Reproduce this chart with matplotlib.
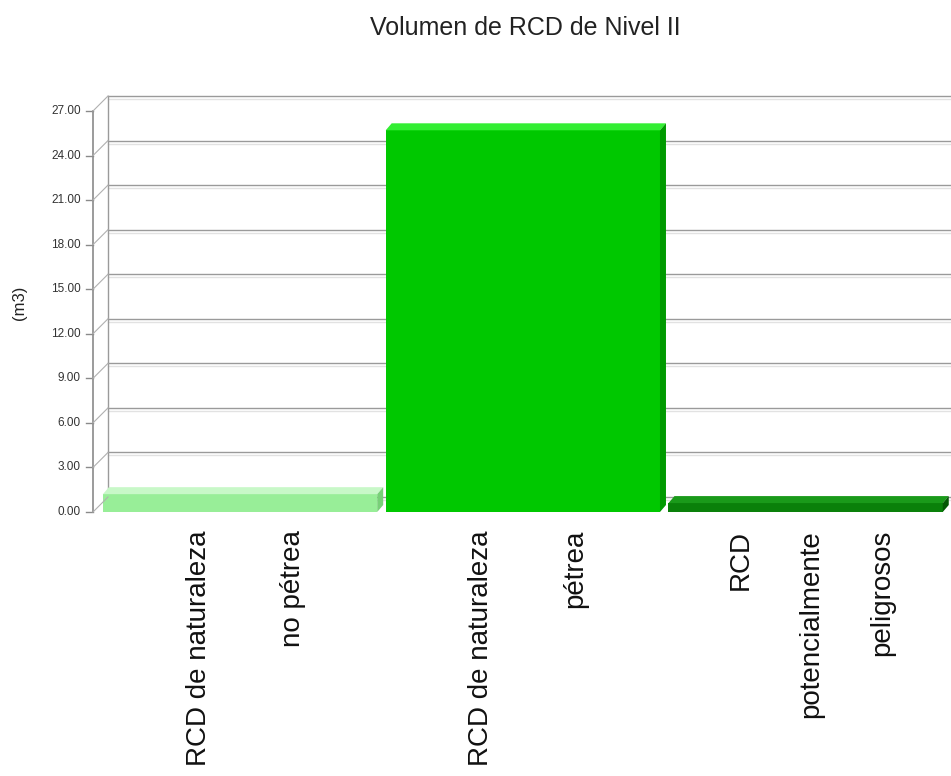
import matplotlib
matplotlib.use("Agg")
import matplotlib.pyplot as plt
import matplotlib.transforms as mtransforms
from matplotlib.patches import Polygon

plt.rcParams['font.family'] = ['Liberation Sans', 'DejaVu Sans']

# ---- data ----
title = "Volumen de RCD de Nivel II"
ylabel = "(m3)"
categories = [["RCD de naturaleza", "no pétrea"],
              ["RCD de naturaleza", "pétrea"],
              ["RCD", "potencialmente", "peligrosos"]]
values = [1.2, 25.7, 0.6]
yticks = [0, 3, 6, 9, 12, 15, 18, 21, 24, 27]
ytick_labels = ["%.2f" % t for t in yticks]

front_colors = ["#98ee98", "#00c800", "#0a800a"]
top_colors = ["#c8f8c8", "#33ee33", "#1a9a1a"]
side_colors = ["#78d078", "#009a00", "#055805"]

W, H = 951, 776
fig = plt.figure(figsize=(W / 100, H / 100), dpi=100)
ax = fig.add_axes([93 / W, (H - 512) / H, (947 - 93) / W, (512 - 111) / H])
ax.set_xlim(-0.52, 2.5)
ax.set_ylim(0, 27)
ax.set_axis_off()

# back-wall gridlines (offset for depth)
wall = mtransforms.offset_copy(ax.transData, fig=fig, x=15, y=15, units='dots')
wall_shadow = mtransforms.offset_copy(ax.transData, fig=fig, x=15, y=12, units='dots')
for t in yticks:
    ax.plot([-0.52, 2.6], [t, t], color="#9a9a9a", lw=1.0, transform=wall, clip_on=False, zorder=1)
    ax.plot([-0.52, 2.6], [t, t], color="#e2e2e2", lw=1.0, transform=wall_shadow, clip_on=False, zorder=1)
ax.plot([-0.52, -0.52], [0, 27], color="#9a9a9a", lw=1.0, transform=wall, clip_on=False, zorder=1)
# front axis line
ax.plot([-0.52, -0.52], [0, 27], color="#8a8a8a", lw=1.2, clip_on=False, zorder=2)

# ticks, diagonal connectors and tick labels
for t, lab in zip(yticks, ytick_labels):
    x0, y0 = ax.transData.transform((-0.52, t))
    fig.add_artist(plt.Line2D([x0 - 7, x0], [y0, y0], transform=None, color="#8a8a8a", lw=1.0))
    fig.add_artist(plt.Line2D([x0, x0 + 15], [y0, y0 + 15], transform=None, color="#b0b0b0", lw=0.8))
    fig.text((x0 - 12) / W, y0 / H, lab, ha='right', va='center', fontsize=8.5, color="#333333")

# bars with pseudo 3D faces
bw = 0.97
dx, dy = 6, 7
for i, (v, fc, tc, sc) in enumerate(zip(values, front_colors, top_colors, side_colors)):
    ax.bar(i, v, width=bw, color=fc, edgecolor='none', zorder=3)
    xl, yb = ax.transData.transform((i - bw / 2, 0))
    xr, yt = ax.transData.transform((i + bw / 2, v))
    top = Polygon([(xl, yt), (xr, yt), (xr + dx, yt + dy), (xl + dx, yt + dy)],
                  closed=True, transform=None, facecolor=tc, edgecolor='none', zorder=3)
    side = Polygon([(xr, yb), (xr + dx, yb + dy), (xr + dx, yt + dy), (xr, yt)],
                   closed=True, transform=None, facecolor=sc, edgecolor='none', zorder=3)
    fig.add_artist(top)
    fig.add_artist(side)

# category labels: lines distributed across each slot
lab_tr = mtransforms.blended_transform_factory(ax.transData, ax.transAxes)
for i, lines in enumerate(categories):
    n = len(lines)
    for k, line in enumerate(lines):
        x = i - 0.5 + (k + 1) / (n + 1) + 0.02
        ax.text(x, -0.045, line, transform=lab_tr, rotation=90, ha='center', va='top',
                fontsize=20, color="#111111")

fig.text(525 / W, 1 - 28 / H, title, ha='center', va='center', fontsize=18, color="#222222")
fig.text(20 / W, 1 - 303 / H, ylabel, ha='center', va='center', rotation=90, fontsize=12, color="#222222")

fig.savefig("out.png", dpi=100)
